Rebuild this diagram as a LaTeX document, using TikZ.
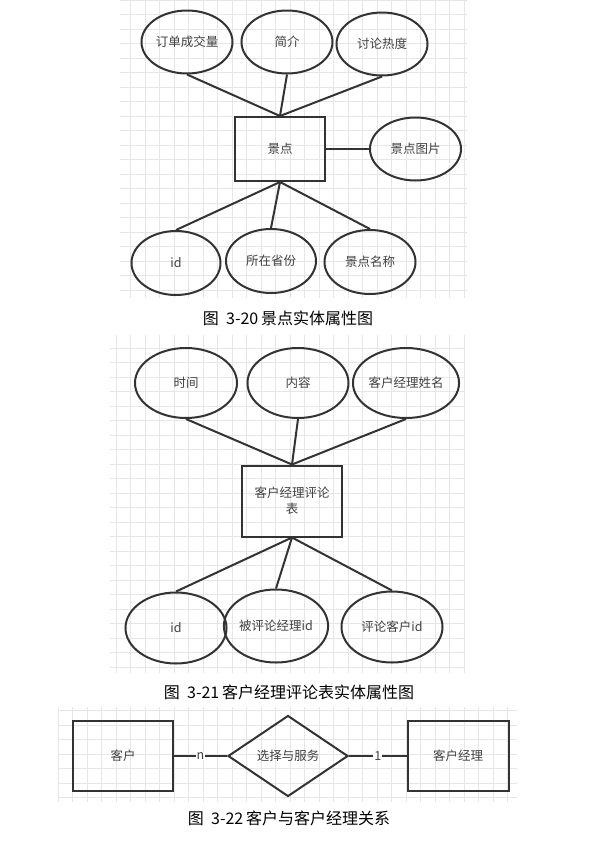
\documentclass[tikz,border=0pt]{standalone}
\usepackage{fontspec}
\setmainfont{Noto Sans CJK SC}
\usetikzlibrary{shapes.geometric, positioning}
\definecolor{linegray}{RGB}{51, 51, 51}
\definecolor{gridgray}{RGB}{230, 230, 230}
\definecolor{textgray}{RGB}{64, 64, 64}

\begin{document}
\begin{tikzpicture}[x=1pt, y=-1pt,
    entity/.style={rectangle, draw=linegray, line width=2pt, minimum width=90pt,
                   minimum height=64pt, align=center, inner sep=1pt,
                   font=\fontsize{12.5}{16}\selectfont, text=textgray},
    attr/.style={ellipse, draw=linegray, line width=2pt, minimum width=91pt,
                 minimum height=63pt, inner sep=0pt, align=center,
                 font=\fontsize{12.5}{16}\selectfont, text=textgray},
    rel/.style={diamond, draw=linegray, line width=2pt, minimum width=120pt,
                minimum height=81pt, inner sep=0pt,
                font=\fontsize{12.5}{16}\selectfont, text=textgray},
    conn/.style={draw=linegray, line width=2pt},
    card/.style={fill=white, inner sep=1pt, font=\fontsize{12.5}{14}\selectfont, text=textgray},
    caption/.style={font=\fontsize{16}{19}\selectfont},
    bg/.style={draw=gridgray, line width=0.8pt, step=14.5pt}
]
    \useasboundingbox (0,0) rectangle (596,847);

    % grids behind the three panels
    \draw[bg] (120,298) grid (467,0);
    \draw[bg] (110,673) grid (465,335);
    \draw[bg] (58,802) grid (517,707);

    % 图 3-20
    \node[entity] (jd) at (280,149) {景点};
    \node[attr] (dd) at (187,42) {订单成交量};
    \node[attr] (jj) at (287,42) {简介};
    \node[attr] (tl) at (382,44) {讨论热度};
    \node[attr, right=43pt of jd] (tp) {景点图片};
    \node[attr, minimum width=89pt, minimum height=64pt] (id1) at (176,263) {id};
    \node[attr, minimum width=90pt, minimum height=64pt] (sf) at (271,261) {所在省份};
    \node[attr, minimum height=64pt] (mc) at (370,262) {景点名称};

    \draw[conn] (dd.south) -- (jd.north);
    \draw[conn] (jj.south) -- (jd.north);
    \draw[conn] (tl.south) -- (jd.north);
    \draw[conn] (jd) -- (tp);
    \draw[conn] (jd.south) -- (id1.north);
    \draw[conn] (jd.south) -- (sf.north);
    \draw[conn] (jd.south) -- (mc.north);

    \node[caption] (cap1) at (288,318) {图~~3-20\,景点实体属性图};

    % 图 3-21
    \node[entity, minimum width=100pt, minimum height=71pt] (pl) at (292,501) {客户经理评论\\表};
    \node[attr, minimum width=102pt, minimum height=70pt] (sj) at (186,383) {时间};
    \node[attr, minimum width=101pt, minimum height=70pt] (nr) at (298,383) {内容};
    \node[attr, minimum width=100pt, minimum height=70pt] (xm) at (406,383) {客户经理姓名};
    \node[attr, minimum width=101pt, minimum height=71pt] (id2) at (176,628) {id};
    \node[attr, minimum width=91pt, minimum height=73pt] (bp) at (276,626) {被评论经理id};
    \node[attr, minimum width=101pt, minimum height=71pt] (kh) at (392,627) {评论客户id};

    \draw[conn] (sj.south) -- (pl.north);
    \draw[conn] (nr.south) -- (pl.north);
    \draw[conn] (xm.south) -- (pl.north);
    \draw[conn] (pl.south) -- (id2.north);
    \draw[conn] (pl.south) -- (bp.north);
    \draw[conn] (pl.south) -- (kh.north);

    \node[caption] (cap2) at (289,692) {图~~3-21\,客户经理评论表实体属性图};

    % 图 3-22
    \node[entity, minimum width=100pt, minimum height=70pt] (kehu) at (123,756) {客户};
    \node[rel] (fw) at (288,756) {选择与服务};
    \node[entity, minimum width=101pt, minimum height=70pt] (jl) at (458,756) {客户经理};

    \draw[conn] (kehu) -- node[card] {n} (fw);
    \draw[conn] (fw) -- node[card] {1} (jl);

    \node[caption] (cap3) at (289,818) {图~~3-22\,客户与客户经理关系};
\end{tikzpicture}
\end{document}
